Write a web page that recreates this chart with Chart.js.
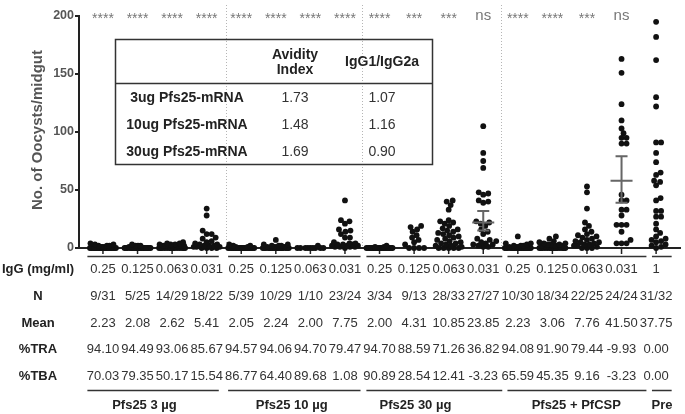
<!DOCTYPE html>
<html><head><meta charset="utf-8">
<style>html,body{margin:0;padding:0;background:#fff}</style>
<script src="https://cdn.jsdelivr.net/npm/chart.js@4"></script>
</head><body>
<canvas id="c" width="685" height="414"></canvas>
<script>
// ---------- data ----------
const doses = ['0.25','0.125','0.063','0.031','0.25','0.125','0.063','0.031','0.25','0.125','0.063','0.031','0.25','0.125','0.063','0.031','1'];
const infected = ['9/31','5/25','14/29','18/22','5/39','10/29','1/10','23/24','3/34','9/13','28/33','27/27','10/30','18/34','22/25','24/24','31/32'];
const meanText = ['2.23','2.08','2.62','5.41','2.05','2.24','2.00','7.75','2.00','4.31','10.85','23.85','2.23','3.06','7.76','41.50','37.75'];
const traText = ['94.10','94.49','93.06','85.67','94.57','94.06','94.70','79.47','94.70','88.59','71.26','36.82','94.08','91.90','79.44','-9.93','0.00'];
const tbaText = ['70.03','79.35','50.17','15.54','86.77','64.40','89.68','1.08','90.89','28.54','12.41','-3.23','65.59','45.35','9.16','-3.23','0.00'];
const signif = ['****','****','****','****','****','****','****','****','****','***','***','ns','****','****','***','ns',''];
const groupNames = ['Pfs25 3 µg','Pfs25 10 µg','Pfs25 30 µg','Pfs25 + PfCSP','Pre'];
const rowLabels = ['IgG (mg/ml)','N','Mean','%TRA','%TBA'];

const insetNames = ['3ug Pfs25-mRNA','10ug Pfs25-mRNA','30ug Pfs25-mRNA'];
const avidity = ['1.73','1.48','1.69'];
const igRatio = ['1.07','1.16','0.90'];

// oocyst counts per mosquito, one array per column
const g01 = [0,0,0,0,0,0,0,0,0,0,0,0,0,0,0,0,0,0,0,0,0,0,1,1,1,2,2,2,3,3,4];
const g02 = [0,0,0,0,0,0,0,0,0,0,0,0,0,0,0,0,0,0,0,0,1,2,2,2,3];
const g03 = [0,0,0,0,0,0,0,0,0,0,0,0,0,0,0,1,2,2,2,2,2,2,2,3,3,3,4,4,5];
const g04 = [0,0,0,0,1,1,1,2,2,2,3,3,4,5,6,8,9,12,12,15,28,34];
const g05 = [0,0,0,0,0,0,0,0,0,0,0,0,0,0,0,0,0,0,0,0,0,0,0,0,0,0,0,0,0,0,0,0,0,0,1,1,2,2,3];
const g06 = [0,0,0,0,0,0,0,0,0,0,0,0,0,0,0,0,0,0,0,1,1,1,1,2,2,2,3,3,7];
const g07 = [0,0,0,0,0,0,0,0,0,2];
const g08 = [0,1,1,1,1,2,2,2,3,3,3,4,4,5,9,9,12,14,15,16,21,23,24,41];
const g09 = [0,0,0,0,0,0,0,0,0,0,0,0,0,0,0,0,0,0,0,0,0,0,0,0,0,0,0,0,0,0,0,1,1,2];
const g10 = [0,0,0,0,3,5,7,9,11,14,16,18,19];
const g11 = [0,0,0,0,0,1,2,3,4,4,5,6,7,8,9,10,11,12,13,14,15,16,17,19,21,22,23,24,33,37,40,41,2];
const g12 = [1,1,2,3,3,4,5,6,7,8,12,14,16,19,21,22,23,39,40,41,46,47,48,69,75,82,105];
const g13 = [0,0,0,0,0,0,0,0,0,0,0,0,0,0,0,0,0,0,0,0,1,1,1,2,2,2,3,4,4,10];
const g14 = [0,0,0,0,0,0,0,0,0,0,0,0,0,0,0,0,1,1,1,1,1,2,2,2,2,3,3,3,4,4,5,6,8,10];
const g15 = [0,0,0,1,2,2,3,3,4,5,5,6,7,8,9,10,11,12,14,16,19,22,34,48,53];
const g16 = [4,4,4,7,14,20,20,20,28,33,33,41,41,46,90,90,95,95,99,103,110,124,151,163];
const g17 = [0,1,2,3,5,6,7,8,10,13,16,21,27,27,32,32,41,43,54,57,58,63,65,74,82,91,91,122,130,162,182,195];
const groups = [g01,g02,g03,g04,g05,g06,g07,g08,g09,g10,g11,g12,g13,g14,g15,g16,g17];

// mean line and error bar ends drawn in two columns
const barCols = [11, 15];
const barMean = [22, 58];
const barLow = [15, 39];
const barHigh = [32, 79];

// ---------- layout ----------
const F = "'Liberation Sans', Arial, sans-serif";
const bracketSpans = [[-0.45,3.35],[3.62,7.45],[7.62,11.55],[11.7,15.72],[15.88,16.45]];
const groupLabelPos = [1.2,5.46,9.04,13.69,16.17];
const separators = [3.55,7.5,11.5];
const rowY = [269,296,323,349,376];

function swarm(vals, pxY){
  const D = 5, W = 13, step = 0.5;
  const order = vals.map((v,i)=>i).sort((a,b)=>vals[a]-vals[b]);
  const placed = [], out = new Array(vals.length).fill(0);
  for (const i of order){
    const y = vals[i]*pxY;
    let chosen = null, bestK = 0, bestScore = -1;
    for (let s=0; s<=2*W/step; s++){
      const k = Math.ceil(s/2)*step*(s%2 ? 1 : -1);
      let md = Infinity;
      for (const p of placed){ const d = Math.hypot(k-p.x, y-p.y); if (d<md) md = d; }
      if (md >= D){ chosen = k; break; }
      if (md > bestScore){ bestScore = md; bestK = k; }
    }
    if (chosen === null) chosen = bestK;
    placed.push({x:chosen, y});
    out[i] = chosen;
  }
  return out;
}

const deco = {
  id:'deco',
  beforeDatasetsDraw(chart){
    const c = chart.ctx, xs = chart.scales.x, ys = chart.scales.y, a = chart.chartArea;
    c.save();
    c.strokeStyle = '#b5b5b5'; c.lineWidth = 1; c.setLineDash([1,2]);
    separators.forEach(s=>{ const x = Math.round(xs.getPixelForValue(s))+0.5; c.beginPath(); c.moveTo(x,5); c.lineTo(x,a.bottom); c.stroke(); });
    c.setLineDash([]);
    c.strokeStyle = '#222'; c.lineWidth = 2;
    c.beginPath(); c.moveTo(a.left-1, a.bottom); c.lineTo(a.right, a.bottom); c.stroke();
    c.lineWidth = 1.5;
    groups.forEach((g,i)=>{ const x = xs.getPixelForValue(i); c.beginPath(); c.moveTo(x,a.bottom); c.lineTo(x,a.bottom+6); c.stroke(); });
    c.fillStyle = '#777'; c.textAlign = 'center'; c.textBaseline = 'alphabetic';
    signif.forEach((t,i)=>{
      const x = xs.getPixelForValue(i);
      if (t === 'ns'){ c.font = '15px '+F; c.fillText(t, x, 20); }
      else if (t){ c.font = '14px '+F; c.fillText(t, x, 23); }
    });
    c.strokeStyle = '#333'; c.lineWidth = 1.5;
    c.strokeRect(115.5,39.5,317,125);
    c.beginPath(); c.moveTo(115,83.5); c.lineTo(432,83.5); c.stroke();
    c.fillStyle = '#222'; c.textBaseline = 'middle';
    c.font = 'bold 14px '+F;
    c.fillText('Avidity', 295, 55); c.fillText('Index', 295, 70);
    c.fillText('IgG1/IgG2a', 382, 62);
    const ry = [98,125,152];
    insetNames.forEach((n,i)=>{
      c.font = 'bold 14px '+F; c.fillStyle = '#222'; c.fillText(n, 187, ry[i]);
      c.font = '14px '+F; c.fillStyle = '#333';
      c.fillText(avidity[i], 295, ry[i]); c.fillText(igRatio[i], 382, ry[i]);
    });
    c.restore();
  },
  afterDatasetsDraw(chart){
    const c = chart.ctx, xs = chart.scales.x, ys = chart.scales.y;
    c.save(); c.strokeStyle = '#666'; c.lineWidth = 2;
    barCols.forEach((col,i)=>{
      const x = xs.getPixelForValue(col);
      const ym = ys.getPixelForValue(barMean[i]), yl = ys.getPixelForValue(barLow[i]), yh = ys.getPixelForValue(barHigh[i]);
      c.beginPath();
      c.moveTo(x,yl); c.lineTo(x,yh);
      c.moveTo(x-11,ym); c.lineTo(x+11,ym);
      c.moveTo(x-6,yl); c.lineTo(x+6,yl);
      c.moveTo(x-6,yh); c.lineTo(x+6,yh);
      c.stroke();
    });
    c.restore();
  },
  afterDraw(chart){
    const c = chart.ctx, xs = chart.scales.x;
    c.save();
    c.translate(38,130); c.rotate(-Math.PI/2);
    c.fillStyle = '#555'; c.font = 'bold 15px '+F; c.textAlign = 'center'; c.textBaseline = 'middle';
    c.fillText('No. of Oocysts/midgut', 0, 0);
    c.restore();
    c.save();
    c.textAlign = 'center'; c.textBaseline = 'middle';
    rowLabels.forEach((l,r)=>{ c.font = 'bold 13px '+F; c.fillStyle = '#222'; c.fillText(l, 38, rowY[r]); });
    const rows = [doses, infected, meanText, traText, tbaText];
    c.font = '13px '+F; c.fillStyle = '#333';
    rows.forEach((row,r)=>{ row.forEach((t,i)=>{ c.fillText(t, xs.getPixelForValue(i), rowY[r]); }); });
    c.strokeStyle = '#333'; c.lineWidth = 1.5;
    bracketSpans.forEach(([s,e])=>{
      const x0 = xs.getPixelForValue(s), x1 = xs.getPixelForValue(e);
      c.beginPath(); c.moveTo(x0,256.5); c.lineTo(x1,256.5); c.moveTo(x0,390.5); c.lineTo(x1,390.5); c.stroke();
    });
    c.font = 'bold 13px '+F; c.fillStyle = '#222';
    groupNames.forEach((n,i)=>{ c.fillText(n, xs.getPixelForValue(groupLabelPos[i]), 405); });
    c.restore();
  }
};

const chart = new Chart(document.getElementById('c'), {
  type:'scatter',
  data:{ datasets: groups.map((g,i)=>({ data: g.map(v=>({x:i,y:v})), pointRadius:2.9, pointBackgroundColor:'#111', pointBorderWidth:0, clip:false })) },
  options:{
    responsive:false, animation:false, events:[], devicePixelRatio:1,
    layout:{ padding:{ left:0, right:3, top:16, bottom:166 } },
    plugins:{ legend:{display:false}, tooltip:{enabled:false} },
    scales:{
      x:{ type:'linear', min:-0.693, max:16.72, display:false },
      y:{ min:0, max:200, afterFit(s){ s.width = 79; },
          ticks:{ stepSize:50, font:{family:F, size:12.5, weight:'bold'}, color:'#555', padding:1 },
          grid:{ display:true, drawOnChartArea:false, drawTicks:true, tickLength:4, color:'#222', lineWidth:2 },
          border:{ display:true, color:'#222', width:2 } }
    }
  },
  plugins:[deco]
});

// beeswarm spread of points inside each column (layout only)
(function(){
  const xs = chart.scales.x, ys = chart.scales.y;
  const pxX = xs.getPixelForValue(1) - xs.getPixelForValue(0);
  const pxY = ys.getPixelForValue(0) - ys.getPixelForValue(1);
  groups.forEach((g,i)=>{
    const dx = swarm(g, pxY);
    chart.data.datasets[i].data = g.map((v,j)=>({x: i + dx[j]/pxX, y: v}));
  });
  chart.update();
})();
</script>
</body></html>
